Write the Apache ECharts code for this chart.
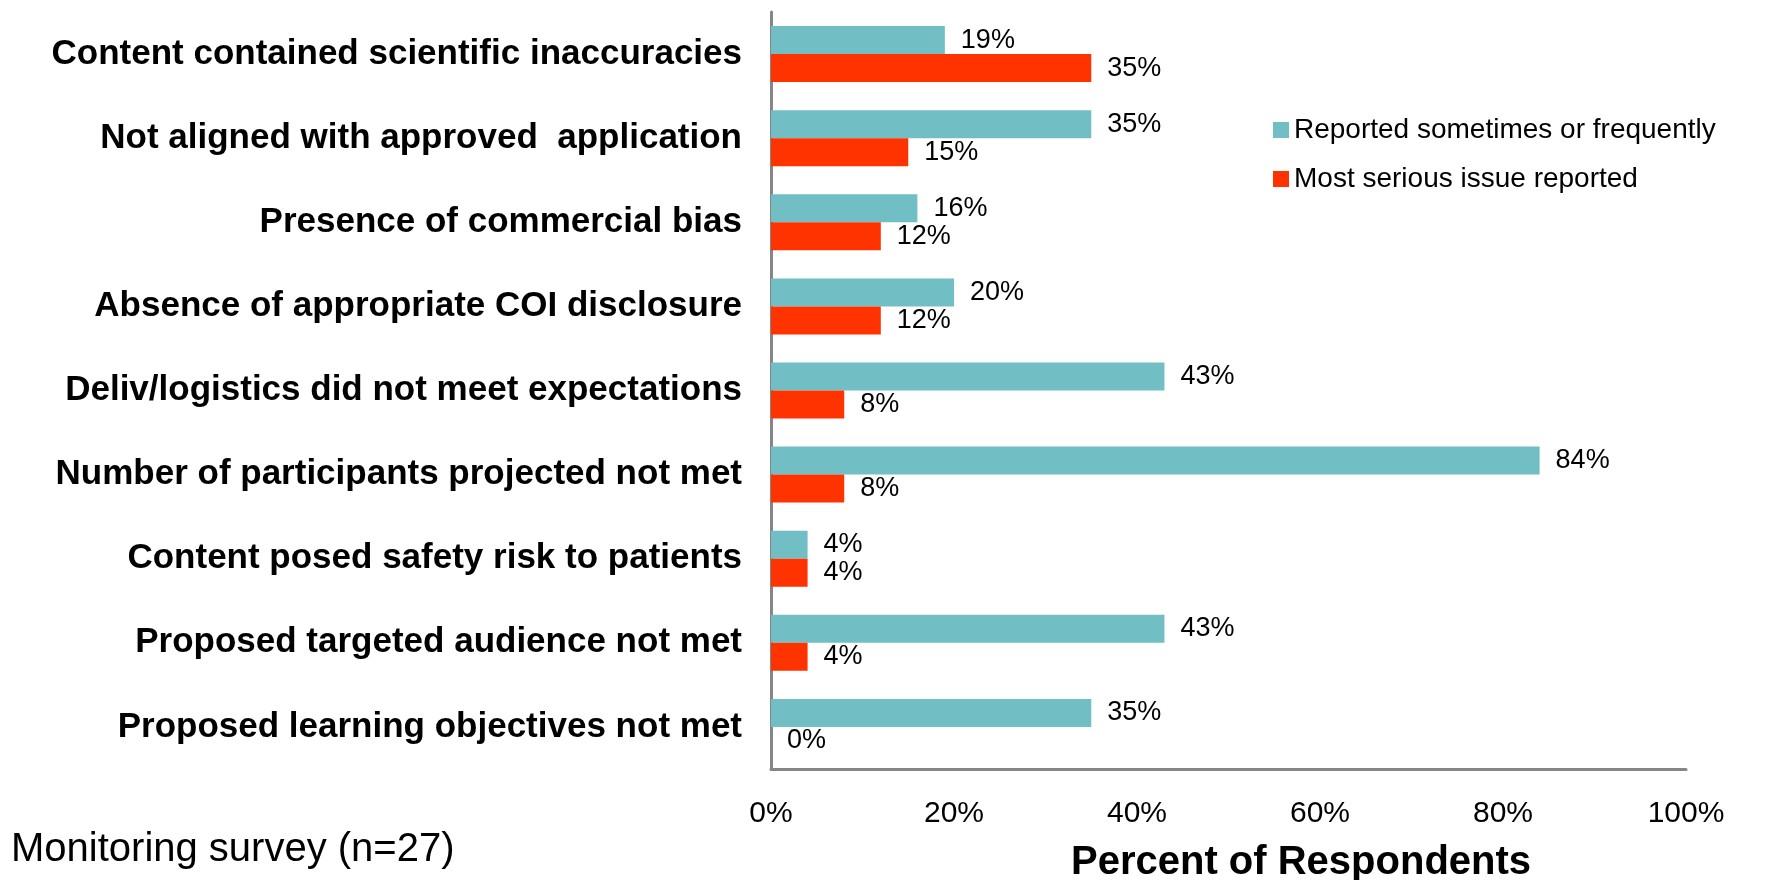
<!DOCTYPE html>
<html>
<head>
<meta charset="utf-8">
<style>
  html, body { margin: 0; padding: 0; background: #fff; }
  #chart { width: 1771px; height: 880px; }
</style>
<script src="https://cdn.jsdelivr.net/npm/echarts@6/dist/echarts.min.js"></script>
</head>
<body>
<div id="chart"></div>
<script>
// categories, top to bottom as in the picture
var categories = [
  "Content contained scientific inaccuracies",
  "Not aligned with approved  application",
  "Presence of commercial bias",
  "Absence of appropriate COI disclosure",
  "Deliv/logistics did not meet expectations",
  "Number of participants projected not met",
  "Content posed safety risk to patients",
  "Proposed targeted audience not met",
  "Proposed learning objectives not met"
];
var reported = [19, 35, 16, 20, 43, 84, 4, 43, 35];
var mostSerious = [35, 15, 12, 12, 8, 8, 4, 4, 0];
var xTicks = [0, 20, 40, 60, 80, 100];

var font = "Liberation Sans, Arial, sans-serif";
var chart = echarts.init(document.getElementById("chart"));

var option = {
  animation: false,
  textStyle: { fontFamily: font },
  title: [
    {
      text: "Percent of Respondents",
      left: 1066,
      top: 838,
      textStyle: { fontSize: 40, fontWeight: "bold", color: "#000", fontFamily: font }
    },
    {
      text: "Monitoring survey (n=27)",
      left: 6,
      top: 825,
      textStyle: { fontSize: 40, fontWeight: "normal", color: "#000", fontFamily: font }
    }
  ],
  legend: {
    orient: "vertical",
    left: 1268,
    top: 111,
    itemWidth: 16,
    itemHeight: 16,
    itemGap: 21,
    icon: "rect",
    textStyle: { fontSize: 28, color: "#000", fontFamily: font },
    data: ["Reported sometimes or frequently", "Most serious issue reported"]
  },
  grid: { left: 771, right: 85, top: 12, bottom: 111, containLabel: false },
  xAxis: {
    type: "value",
    min: 0,
    max: 100,
    interval: 20,
    axisLine: { show: true, lineStyle: { color: "#868686", width: 3 } },
    axisTick: { show: false },
    splitLine: { show: false },
    axisLabel: {
      fontSize: 30,
      color: "#000",
      margin: 30,
      formatter: function (v) { return xTicks.indexOf(v) >= 0 ? v + "%" : ""; }
    }
  },
  yAxis: {
    type: "category",
    inverse: true,
    data: categories,
    axisLine: { show: true, lineStyle: { color: "#868686", width: 3 } },
    axisTick: { show: false },
    axisLabel: {
      fontSize: 35,
      fontWeight: "bold",
      color: "#000",
      margin: 29
    }
  },
  series: [
    {
      name: "Reported sometimes or frequently",
      type: "bar",
      data: reported,
      barWidth: 28,
      barGap: "0%",
      itemStyle: { color: "#72BEC5" },
      label: {
        show: true,
        position: "right",
        distance: 16,
        fontSize: 27,
        color: "#000",
        formatter: "{c}%"
      }
    },
    {
      name: "Most serious issue reported",
      type: "bar",
      data: mostSerious,
      barWidth: 28,
      barGap: "0%",
      itemStyle: { color: "#FF3300" },
      label: {
        show: true,
        position: "right",
        distance: 16,
        fontSize: 27,
        color: "#000",
        formatter: "{c}%"
      }
    }
  ]
};

chart.setOption(option);
</script>
</body>
</html>
